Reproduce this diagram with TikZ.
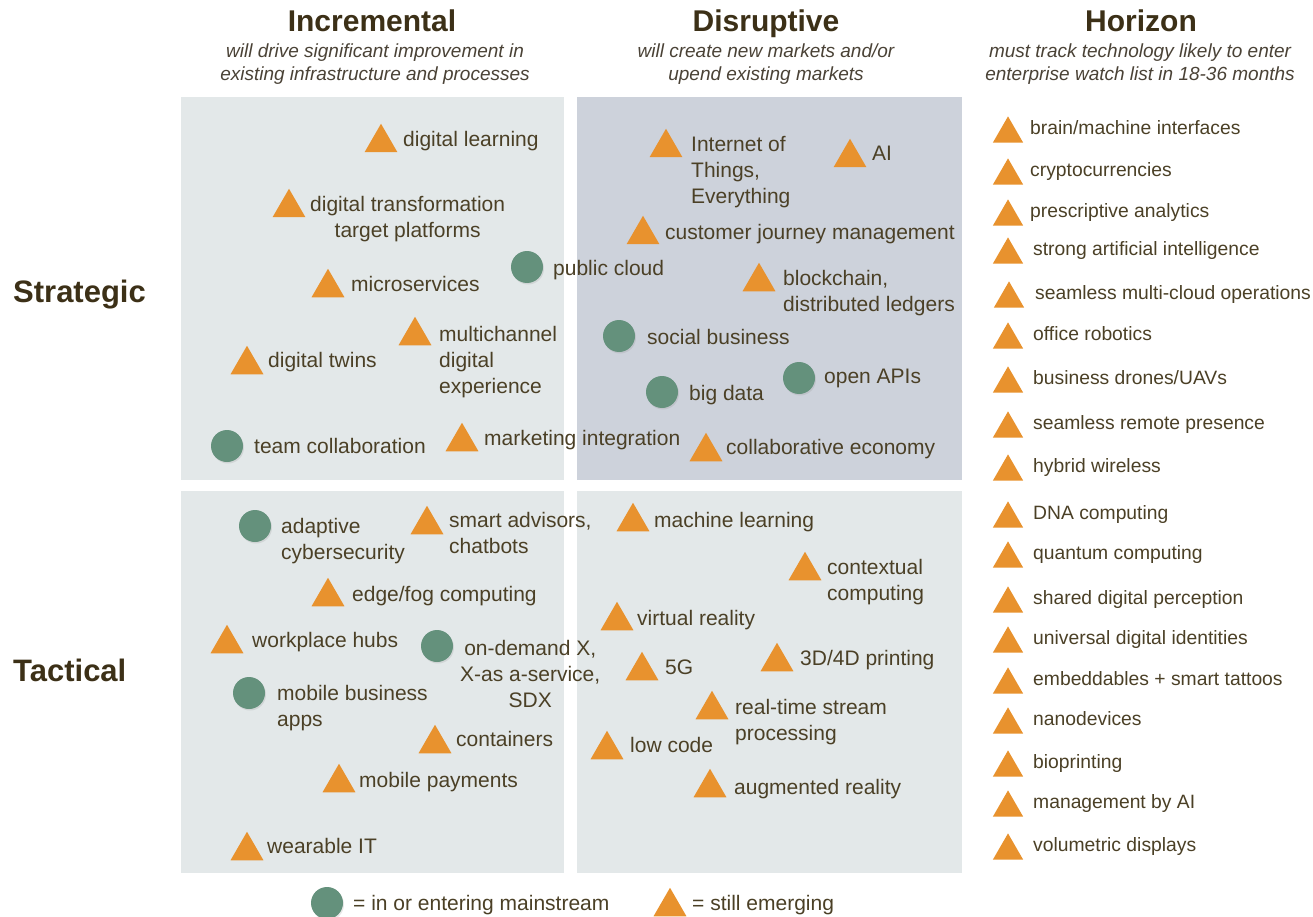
\documentclass[tikz,border=0pt]{standalone}
\usepackage{fontspec}
\setmainfont{Liberation Sans}
\usetikzlibrary{shapes.geometric,shadows}
\definecolor{boxlight}{HTML}{E3E8E9}
\definecolor{boxdark}{HTML}{CDD2DB}
\definecolor{orng}{HTML}{E8922E}
\definecolor{grn}{HTML}{64917C}
\definecolor{txt}{HTML}{4B4026}
\definecolor{head}{HTML}{3C3017}
\definecolor{subt}{HTML}{4A4236}
\begin{document}
\begin{tikzpicture}[x=1pt,y=-1pt,
 tri/.style={regular polygon, regular polygon sides=3, minimum size=38pt, inner sep=0pt, fill=orng, yshift=-4.75pt},
 htri/.style={regular polygon, regular polygon sides=3, minimum size=35pt, inner sep=0pt, fill=orng, yshift=-4.4pt},
 dot/.style={circle, minimum size=32pt, inner sep=0pt, fill=grn, drop shadow={opacity=0.18, shadow xshift=1pt, shadow yshift=-1.5pt}},
 lbl/.style={anchor=north west, inner sep=0pt, align=left, text=txt, font=\fontsize{21}{26}\selectfont, yshift=-2pt},
 clbl/.style={lbl, align=center},
 hlbl/.style={anchor=north west, inner sep=0pt, text=txt, font=\fontsize{19.3}{24}\selectfont, yshift=-2pt},
 heading/.style={anchor=base, inner sep=0pt, text=head, font=\fontsize{30}{36}\selectfont\bfseries},
 rowhead/.style={anchor=base west, inner sep=0pt, text=head, font=\fontsize{31}{36}\selectfont\bfseries},
 subtitle/.style={anchor=north, inner sep=0pt, align=center, text=subt, font=\fontsize{19}{23}\selectfont\itshape, yshift=-2pt}
]
\useasboundingbox (0,0) rectangle (1313,917);
\fill[white] (0,0) rectangle (1313,917);
% quadrants
\fill[boxlight] (181,97) rectangle (564,480);
\fill[boxdark] (577,97) rectangle (962,480);
\fill[boxlight] (181,491) rectangle (564,873);
\fill[boxlight] (577,491) rectangle (962,873);
% headings
\node[heading] (hinc) at (372,32) {Incremental};
\node[heading] (hdis) at (766,32) {Disruptive};
\node[heading] (hhor) at (1141,32) {Horizon};
\node[subtitle] (sinc) at (375,41.3) {will drive significant improvement in\\existing infrastructure and processes};
\node[subtitle] (sdis) at (766,41.3) {will create new markets and/or\\upend existing markets};
\node[subtitle] (shor) at (1140,41.3) {must track technology likely to enter\\enterprise watch list in 18-36 months};
\node[rowhead] (rstr) at (13,302) {Strategic};
\node[rowhead] (rtac) at (13,681) {Tactical};
% top-left
\node[tri] (m1) at (381,138) {}; \node[lbl] (l1) at (403,129) {digital learning};
\node[tri] (m2) at (289,203) {}; \node[clbl] (l2) at (310,194) {digital transformation\\target platforms};
\node[tri] (m3) at (328,283) {}; \node[lbl] (l3) at (351,274) {microservices};
\node[dot] (m4) at (527,267) {}; \node[lbl] (l4) at (553,258) {public cloud};
\node[tri] (m5) at (415,331) {}; \node[lbl] (l5) at (439,324) {multichannel\\digital\\experience};
\node[tri] (m6) at (247,360) {}; \node[lbl] (l6) at (268,350) {digital twins};
\node[dot] (m7) at (227,446) {}; \node[lbl] (l7) at (254,436) {team collaboration};
\node[tri] (m8) at (462,437) {}; \node[lbl] (l8) at (484,428) {marketing integration};
% top-right
\node[tri] (m9) at (666,143) {}; \node[lbl] (l9) at (691,134) {Internet of\\Things,\\Everything};
\node[tri] (m10) at (850,153) {}; \node[lbl] (l10) at (872,144) {AI};
\node[tri] (m11) at (643,230) {}; \node[lbl] (l11) at (665,222) {customer journey management};
\node[tri] (m12) at (759,277) {}; \node[lbl] (l12) at (783,268) {blockchain,\\distributed ledgers};
\node[dot] (m13) at (619,336) {}; \node[lbl] (l13) at (647,327) {social business};
\node[dot] (m14) at (662,392) {}; \node[lbl] (l14) at (689,383) {big data};
\node[dot] (m15) at (799,378) {}; \node[lbl] (l15) at (824,367) {open APIs};
\node[tri] (m16) at (706,447) {}; \node[lbl] (l16) at (726,437) {collaborative economy};
% bottom-left
\node[dot] (m17) at (255,526) {}; \node[lbl] (l17) at (281,516) {adaptive\\cybersecurity};
\node[tri] (m18) at (427,520) {}; \node[lbl] (l18) at (449,510) {smart advisors,\\chatbots};
\node[tri] (m19) at (328,592) {}; \node[lbl] (l19) at (352,584) {edge/fog computing};
\node[tri] (m20) at (227,639) {}; \node[lbl] (l20) at (252,630) {workplace hubs};
\node[dot] (m21) at (437,646) {}; \node[clbl] (l21) at (460,638) {on-demand X,\\X-as a-service,\\SDX};
\node[dot] (m22) at (249,693) {}; \node[lbl] (l22) at (277,683) {mobile business\\apps};
\node[tri] (m23) at (435,739) {}; \node[lbl] (l23) at (456,729) {containers};
\node[tri] (m24) at (339,778) {}; \node[lbl] (l24) at (359,770) {mobile payments};
\node[tri] (m25) at (247,846) {}; \node[lbl] (l25) at (267,836) {wearable IT};
% bottom-right
\node[tri] (m26) at (633,517) {}; \node[lbl] (l26) at (654,510) {machine learning};
\node[tri] (m27) at (805,566) {}; \node[lbl] (l27) at (827,557) {contextual\\computing};
\node[tri] (m28) at (617,616) {}; \node[lbl] (l28) at (637,608) {virtual reality};
\node[tri] (m29) at (642,666) {}; \node[lbl] (l29) at (665,658) {5G};
\node[tri] (m30) at (777,657) {}; \node[lbl] (l30) at (800,648) {3D/4D printing};
\node[tri] (m31) at (712,705) {}; \node[lbl] (l31) at (735,697) {real-time stream\\processing};
\node[tri] (m32) at (607,745) {}; \node[lbl] (l32) at (630,735) {low code};
\node[tri] (m33) at (710,783) {}; \node[lbl] (l33) at (734,777) {augmented reality};
% horizon list
\node[htri] (h1) at (1008,129.5) {}; \node[hlbl] (hl1) at (1030,118.8) {brain/machine interfaces};
\node[htri] (h2) at (1008,171.5) {}; \node[hlbl] (hl2) at (1030,160.8) {cryptocurrencies};
\node[htri] (h3) at (1008,212.5) {}; \node[hlbl] (hl3) at (1030,201.8) {prescriptive analytics};
\node[htri] (h4) at (1008,250.5) {}; \node[hlbl] (hl4) at (1033,239.8) {strong artificial intelligence};
\node[htri] (h5) at (1009,294.5) {}; \node[hlbl] (hl5) at (1035,283.8) {seamless multi-cloud operations};
\node[htri] (h6) at (1008,335.5) {}; \node[hlbl] (hl6) at (1033,324.8) {office robotics};
\node[htri] (h7) at (1008,379.5) {}; \node[hlbl] (hl7) at (1033,368.8) {business drones/UAVs};
\node[htri] (h8) at (1008,424.5) {}; \node[hlbl] (hl8) at (1033,413.8) {seamless remote presence};
\node[htri] (h9) at (1008,467.5) {}; \node[hlbl] (hl9) at (1033,456.8) {hybrid wireless};
\node[htri] (h10) at (1008,514.5) {}; \node[hlbl] (hl10) at (1033,503.8) {DNA computing};
\node[htri] (h11) at (1008,554.5) {}; \node[hlbl] (hl11) at (1033,543.8) {quantum computing};
\node[htri] (h12) at (1008,599.5) {}; \node[hlbl] (hl12) at (1033,588.8) {shared digital perception};
\node[htri] (h13) at (1008,639.5) {}; \node[hlbl] (hl13) at (1033,628.8) {universal digital identities};
\node[htri] (h14) at (1008,680.5) {}; \node[hlbl] (hl14) at (1033,669.8) {embeddables + smart tattoos};
\node[htri] (h15) at (1008,720.5) {}; \node[hlbl] (hl15) at (1033,709.8) {nanodevices};
\node[htri] (h16) at (1008,763.5) {}; \node[hlbl] (hl16) at (1033,752.8) {bioprinting};
\node[htri] (h17) at (1008,803.5) {}; \node[hlbl] (hl17) at (1033,792.8) {management by AI};
\node[htri] (h18) at (1008,846.5) {}; \node[hlbl] (hl18) at (1033,835.8) {volumetric displays};
% legend
\node[dot] (lg1) at (327,903) {}; \node[lbl] (lgt1) at (353,893) {= in or entering mainstream};
\node[tri] (lg2) at (670,902) {}; \node[lbl] (lgt2) at (692,893) {= still emerging};
\end{tikzpicture}
\end{document}
